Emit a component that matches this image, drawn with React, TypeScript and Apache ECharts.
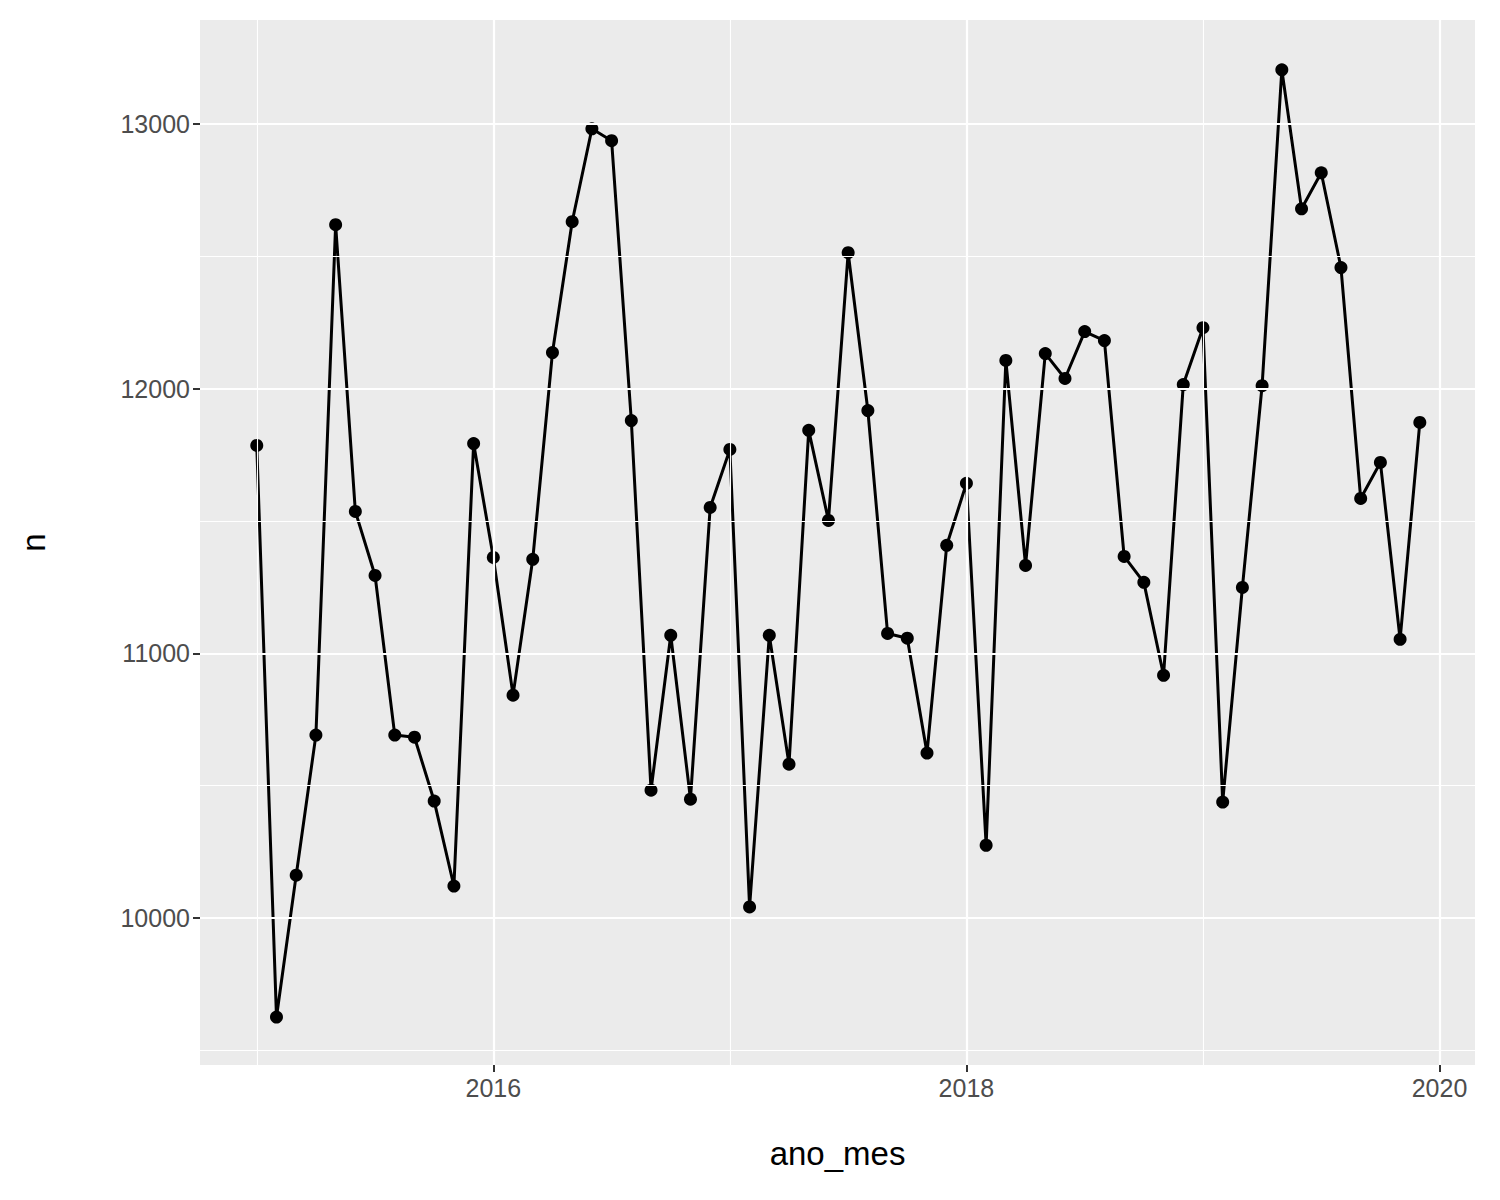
import { useEffect, useRef } from "react";
import * as echarts from "echarts";

// month index 0 = 2015-01
const values = [
  11785, 9626, 10162, 10691, 12619, 11536, 11294, 10691, 10683, 10442, 10121, 11792,
  11362, 10842, 11355, 12136, 12630, 12981, 12936, 11879, 10483, 11068, 10449, 11551,
  11770, 10042, 11068, 10581, 11842, 11502, 12513, 11917, 11075, 11057, 10623, 11408,
  11642, 10275, 12106, 11332, 12132, 12038, 12215, 12181, 11366, 11268, 10917, 12015,
  12230, 10438, 11249, 12011, 13204, 12679, 12815, 12457, 11585, 11721, 11053, 11872,
];
const xMajor = [2016, 2018, 2020];
const xMinor = [2015, 2017, 2019];
const yMajor = [10000, 11000, 12000, 13000];
const yMinor = [9500, 10500, 11500, 12500];

export default function App() {
  const ref = useRef<HTMLDivElement>(null);
  useEffect(() => {
    document.body.style.margin = "0";
    if (!ref.current) return;
    const chart = echarts.init(ref.current, undefined, { renderer: "svg" });
    const data = values.map((v, i) => [2015 + Math.floor(i / 12) + ((i % 12) * 30.44) / 365.25, v]);
    const line = (w: number) => ({ color: "#ffffff", width: w, type: "solid" as const });
    const font = "Liberation Sans, Arial, sans-serif";
    const label = { fontSize: 25, color: "#4d4d4d", fontFamily: font, margin: 10, formatter: (v: number) => String(v) };
    chart.setOption({
      animation: false,
      backgroundColor: "#ffffff",
      grid: { left: 200, top: 20, right: 25, bottom: 135, backgroundColor: "#ebebeb", show: true, borderWidth: 0 },
      xAxis: {
        type: "value", min: 2014.76, max: 2020.15,
        name: "ano_mes", nameLocation: "middle", nameGap: 72,
        nameTextStyle: { fontSize: 33, color: "#000", fontFamily: font },
        axisLine: { show: false }, splitLine: { show: false },
        axisTick: { show: true, customValues: xMajor, length: 7, lineStyle: { color: "#333", width: 2 } },
        axisLabel: { ...label, customValues: xMajor },
      },
      yAxis: {
        type: "value", min: 9445, max: 13392,
        name: "n", nameLocation: "middle", nameGap: 150,
        nameTextStyle: { fontSize: 33, color: "#000", fontFamily: font },
        axisLine: { show: false }, splitLine: { show: false },
        axisTick: { show: true, customValues: yMajor, length: 7, lineStyle: { color: "#333", width: 2 } },
        axisLabel: { ...label, customValues: yMajor },
      },
      series: [
        {
          type: "line", data: [], silent: true,
          markLine: {
            symbol: "none", silent: true, label: { show: false },
            data: [
              ...xMinor.map((x) => ({ xAxis: x, lineStyle: line(1.1) })),
              ...yMinor.map((y) => ({ yAxis: y, lineStyle: line(1.1) })),
              ...xMajor.map((x) => ({ xAxis: x, lineStyle: line(2.2) })),
              ...yMajor.map((y) => ({ yAxis: y, lineStyle: line(2.2) })),
            ],
          },
        },
        {
          type: "line", data, symbol: "circle", symbolSize: 13, showSymbol: true,
          lineStyle: { color: "#000", width: 3 }, itemStyle: { color: "#000" },
        },
      ],
    });
    return () => chart.dispose();
  }, []);
  return <div ref={ref} style={{ width: 1500, height: 1200 }} />;
}
